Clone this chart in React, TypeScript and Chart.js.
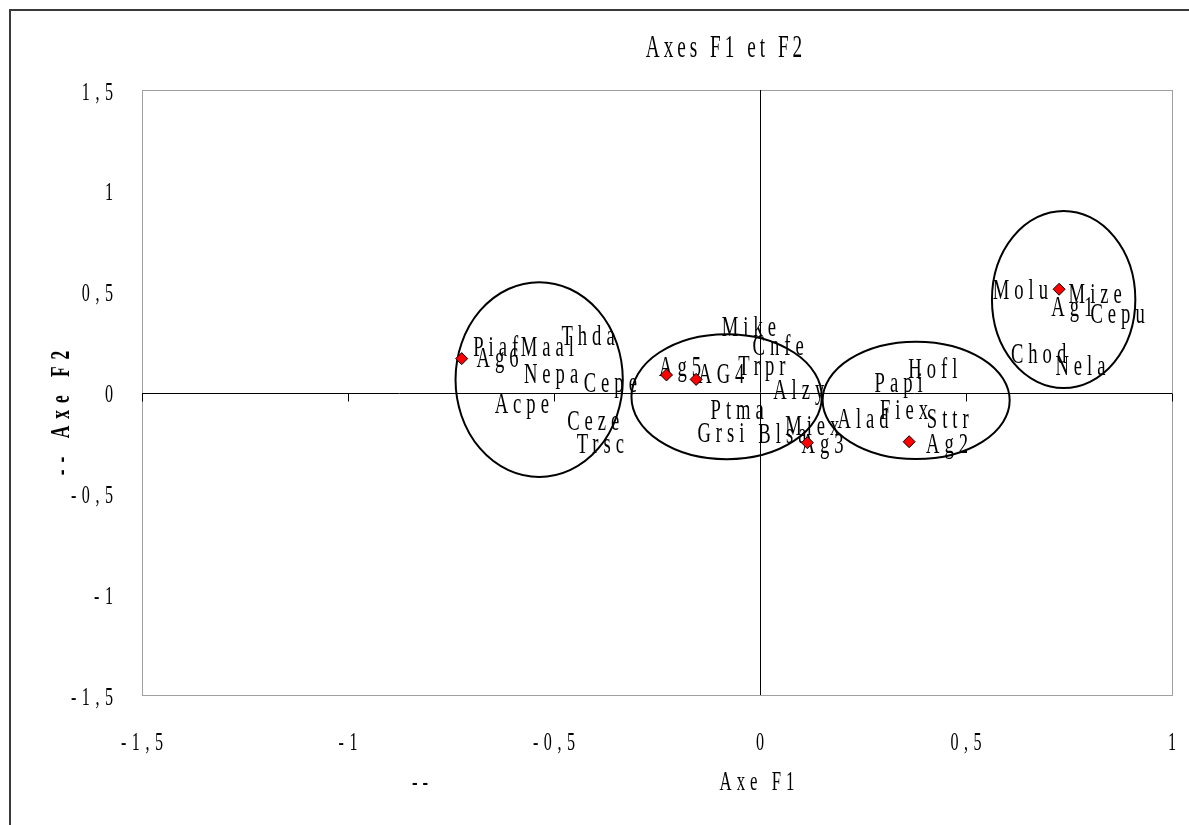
import React, { useEffect, useRef } from "react";
import { Chart, registerables } from "chart.js";

Chart.register(...registerables);

// Group points (red diamonds)
const groupNames = ["Ag6", "Ag5", "AG4", "Ag3", "Ag2", "Ag1"];
const groupX = [-0.724, -0.227, -0.155, 0.115, 0.362, 0.726];
const groupY = [0.168, 0.087, 0.065, -0.249, -0.244, 0.512];

// Text labels (species and groups), anchored at left edge / vertical centre
const labelNames = [
  "Piaf", "Maal", "Thda", "Ag6", "Nepa", "Cepe", "Acpe", "Ceze", "Trsc",
  "Mike", "Cnfe", "Ag5", "AG4", "Trpr", "Alzy", "Ptma", "Grsi", "Blsa", "Miex", "Ag3",
  "Hofl", "Papi", "Fiex", "Alad", "Sttr", "Ag2",
  "Molu", "Mize", "Ag1", "Cepu", "Chod", "Nela",
];
const labelX = [
  -0.696, -0.581, -0.482, -0.688, -0.573, -0.428, -0.644, -0.468, -0.445,
  -0.093, -0.018, -0.245, -0.15, -0.053, 0.032, -0.12, -0.152, -0.004, 0.061, 0.101,
  0.36, 0.278, 0.291, 0.188, 0.405, 0.403,
  0.565, 0.749, 0.707, 0.802, 0.609, 0.717,
];
const labelY = [
  0.229, 0.229, 0.283, 0.176, 0.095, 0.054, -0.054, -0.136, -0.252,
  0.331, 0.236, 0.132, 0.095, 0.136, 0.018, -0.083, -0.194, -0.201, -0.161, -0.252,
  0.122, 0.051, -0.081, -0.126, -0.125, -0.252,
  0.512, 0.492, 0.431, 0.393, 0.194, 0.136,
];

// Ellipses grouping clusters
const ellipseCx = [-0.536, -0.081, 0.379, 0.737];
const ellipseCy = [0.064, -0.021, -0.039, 0.461];
const ellipseRx = [0.203, 0.231, 0.227, 0.174];
const ellipseRy = [0.483, 0.31, 0.291, 0.439];

// Axis ticks
const xTickVals = [-1.5, -1, -0.5, 0, 0.5, 1];
const xTickLabels = ["-1,5", "-1", "-0,5", "0", "0,5", "1"];
const yTickVals = [1.5, 1, 0.5, 0, -0.5, -1, -1.5];
const yTickLabels = ["1,5", "1", "0,5", "0", "-0,5", "-1", "-1,5"];

const titleText = "Axes F1 et F2";
const xTitleText = "Axe F1";
const xTitlePrefix = "--";
const yTitleText = "-- Axe F2";

type TOpts = { size: number; sx?: number; spacing?: number; align?: string; bold?: boolean; rotate?: number };

function drawText(ctx: CanvasRenderingContext2D, text: string, x: number, y: number, o: TOpts) {
  const size = o.size;
  const sx = o.sx ?? 0.62;
  const sp = o.spacing ?? 5;
  ctx.save();
  ctx.translate(x, y);
  if (o.rotate) ctx.rotate(o.rotate);
  ctx.scale(sx, 1);
  ctx.font = `${o.bold ? "bold " : ""}${size}px "Liberation Serif"`;
  (ctx as any).letterSpacing = `${sp / sx}px`;
  ctx.textBaseline = "alphabetic";
  ctx.textAlign = "left";
  const w = ctx.measureText(text).width - sp / sx;
  let dx = 0;
  if (o.align === "center") dx = -w / 2;
  else if (o.align === "right") dx = -w;
  ctx.fillStyle = "#000";
  ctx.fillText(text, dx, 0.331 * size);
  ctx.restore();
}

const decorPlugin = {
  id: "decor",
  beforeDatasetsDraw(chart: any) {
    const ctx: CanvasRenderingContext2D = chart.ctx;
    const xs = chart.scales.x;
    const ys = chart.scales.y;
    const a = chart.chartArea;
    ctx.save();
    // outer chart border
    ctx.strokeStyle = "#3a3a3a";
    ctx.lineWidth = 2;
    ctx.strokeRect(10, 10, chart.width + 20, chart.height + 20);
    // plot area border
    ctx.strokeStyle = "#a0a0a0";
    ctx.lineWidth = 1;
    ctx.strokeRect(Math.round(a.left) + 0.5, Math.round(a.top) + 0.5, Math.round(a.right - a.left), Math.round(a.bottom - a.top));
    // zero axes
    const x0 = Math.round(xs.getPixelForValue(0)) + 0.5;
    const y0 = Math.round(ys.getPixelForValue(0)) + 0.5;
    ctx.strokeStyle = "#000";
    ctx.beginPath();
    ctx.moveTo(a.left, y0);
    ctx.lineTo(a.right, y0);
    ctx.moveTo(x0, a.top);
    ctx.lineTo(x0, a.bottom);
    xTickVals.forEach((v) => {
      const px = Math.round(xs.getPixelForValue(v)) + 0.5;
      ctx.moveTo(px, y0);
      ctx.lineTo(px, y0 + 8);
    });
    ctx.stroke();
    // ellipses
    ctx.lineWidth = 2;
    ctx.strokeStyle = "#000";
    ellipseCx.forEach((cx, i) => {
      const px = xs.getPixelForValue(cx);
      const py = ys.getPixelForValue(ellipseCy[i]);
      const rx = Math.abs(xs.getPixelForValue(cx + ellipseRx[i]) - px);
      const ry = Math.abs(ys.getPixelForValue(ellipseCy[i] + ellipseRy[i]) - py);
      ctx.beginPath();
      ctx.ellipse(px, py, rx, ry, 0, 0, Math.PI * 2);
      ctx.stroke();
    });
    ctx.restore();
    // labels
    labelNames.forEach((n, i) => {
      drawText(ctx, n, xs.getPixelForValue(labelX[i]), ys.getPixelForValue(labelY[i]), { size: 30 });
    });
    // tick labels
    xTickVals.forEach((v, i) => {
      drawText(ctx, xTickLabels[i], xs.getPixelForValue(v), 741, { size: 26, align: "center", spacing: 5.5 });
    });
    yTickVals.forEach((v, i) => {
      drawText(ctx, yTickLabels[i], 113, ys.getPixelForValue(v) + 1, { size: 26, align: "right", spacing: 5.5 });
    });
    // titles
    drawText(ctx, titleText, 724, 47, { size: 31, align: "center", spacing: 4 });
    drawText(ctx, xTitleText, 757, 781, { size: 27, align: "center", spacing: 5 });
    drawText(ctx, xTitlePrefix, 420, 781, { size: 27, align: "center", spacing: 5 });
    drawText(ctx, yTitleText, 60, 413, { size: 28, align: "center", spacing: 7, bold: true, rotate: -Math.PI / 2 });
  },
};

export default function App() {
  const ref = useRef<HTMLCanvasElement | null>(null);
  useEffect(() => {
    if (!ref.current) return;
    const chart = new Chart(ref.current, {
      type: "scatter",
      data: {
        datasets: [
          {
            label: "Groupes",
            data: groupX.map((x, i) => ({ x, y: groupY[i] })),
            pointStyle: "rectRot",
            pointRadius: 6,
            pointBackgroundColor: "#ff0000",
            pointBorderColor: "#000000",
            pointBorderWidth: 1,
            showLine: false,
          },
        ],
      },
      options: {
        animation: false,
        responsive: false,
        maintainAspectRatio: false,
        layout: { padding: { left: 142, top: 90, right: 17, bottom: 130 } },
        plugins: { legend: { display: false }, tooltip: { enabled: false }, title: { display: false } },
        scales: {
          x: { type: "linear", min: -1.5, max: 1, display: false },
          y: { type: "linear", min: -1.5, max: 1.5, display: false },
        },
      },
      plugins: [decorPlugin],
    });
    return () => chart.destroy();
  }, []);
  return (
    <div style={{ position: "fixed", left: 0, top: 0, width: 1189, height: 825, background: "#fff" }}>
      <canvas ref={ref} width={1189} height={825} style={{ display: "block", width: 1189, height: 825 }} />
    </div>
  );
}
